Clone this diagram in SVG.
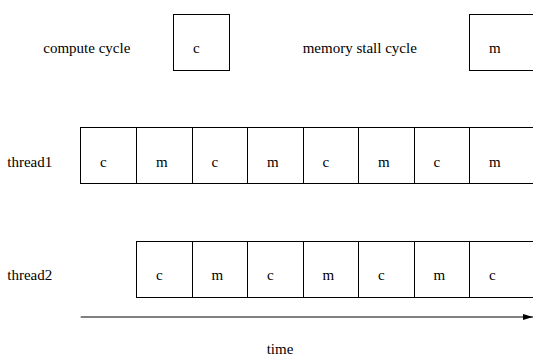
<svg xmlns="http://www.w3.org/2000/svg" width="533" height="358" viewBox="0 0 533 358">
  <style>
    .box { fill: #ffffff; stroke: #000000; stroke-width: 1; }
    .lbl { font-family: 'Liberation Serif', 'DejaVu Serif', serif; font-size: 15px; fill: #000000; }
    .axis { stroke: #000000; stroke-width: 1; fill: none; }
  </style>
  <defs>
    <marker id="arrowhead" markerWidth="10" markerHeight="6" refX="10" refY="3" orient="auto" markerUnits="userSpaceOnUse">
      <path d="M0,0 L10,3 L0,6 Z" fill="#000000"/>
    </marker>
  </defs>

  <rect width="533" height="358" fill="#ffffff"/>

  <!-- legend -->
  <g id="legend-compute">
    <text class="lbl" font-family="Liberation Serif, serif" x="43.3" y="53">compute cycle</text>
    <rect class="box" x="173.5" y="14.5" width="56" height="56"/>
    <text class="lbl" font-family="Liberation Serif, serif" x="193" y="53">c</text>
  </g>
  <g id="legend-memory">
    <text class="lbl" font-family="Liberation Serif, serif" x="302.7" y="53">memory stall cycle</text>
    <rect class="box" x="469.5" y="14.5" width="70" height="56"/>
    <text class="lbl" font-family="Liberation Serif, serif" x="489" y="53">m</text>
  </g>

  <!-- thread 1 timeline -->
  <g id="thread1-label"><text class="lbl" x="7.3" y="166.5">thread1</text></g>
  <g id="t1-c1"><rect class="box" x="80.5" y="127.5" width="56" height="56"/><text class="lbl" x="100" y="166.5">c</text></g>
  <g id="t1-m1"><rect class="box" x="136.5" y="127.5" width="56" height="56"/><text class="lbl" x="156" y="166.5">m</text></g>
  <g id="t1-c2"><rect class="box" x="192.5" y="127.5" width="55" height="56"/><text class="lbl" x="211.5" y="166.5">c</text></g>
  <g id="t1-m2"><rect class="box" x="247.5" y="127.5" width="56" height="56"/><text class="lbl" x="267" y="166.5">m</text></g>
  <g id="t1-c3"><rect class="box" x="303.5" y="127.5" width="55" height="56"/><text class="lbl" x="322.5" y="166.5">c</text></g>
  <g id="t1-m3"><rect class="box" x="358.5" y="127.5" width="56" height="56"/><text class="lbl" x="378" y="166.5">m</text></g>
  <g id="t1-c4"><rect class="box" x="414.5" y="127.5" width="55" height="56"/><text class="lbl" x="433.5" y="166.5">c</text></g>
  <g id="t1-m4"><rect class="box" x="469.5" y="127.5" width="70" height="56"/><text class="lbl" x="489" y="166.5">m</text></g>

  <!-- thread 2 timeline, offset by one cycle -->
  <g id="thread2-label"><text class="lbl" x="7.3" y="280">thread2</text></g>
  <g id="t2-c1"><rect class="box" x="136.5" y="241.5" width="56" height="56"/><text class="lbl" x="156" y="280">c</text></g>
  <g id="t2-m1"><rect class="box" x="192.5" y="241.5" width="55" height="56"/><text class="lbl" x="211.5" y="280">m</text></g>
  <g id="t2-c2"><rect class="box" x="247.5" y="241.5" width="56" height="56"/><text class="lbl" x="267" y="280">c</text></g>
  <g id="t2-m2"><rect class="box" x="303.5" y="241.5" width="55" height="56"/><text class="lbl" x="322.5" y="280">m</text></g>
  <g id="t2-c3"><rect class="box" x="358.5" y="241.5" width="56" height="56"/><text class="lbl" x="378" y="280">c</text></g>
  <g id="t2-m3"><rect class="box" x="414.5" y="241.5" width="55" height="56"/><text class="lbl" x="433.5" y="280">m</text></g>
  <g id="t2-c4"><rect class="box" x="469.5" y="241.5" width="70" height="56"/><text class="lbl" x="489" y="280">c</text></g>

  <!-- time axis -->
  <g id="connectors">
    <line class="axis" x1="80.7" y1="317" x2="533" y2="317" marker-end="url(#arrowhead)"/>
  </g>
  <g id="time-label"><text class="lbl" x="266.7" y="354">time</text></g>
</svg>
